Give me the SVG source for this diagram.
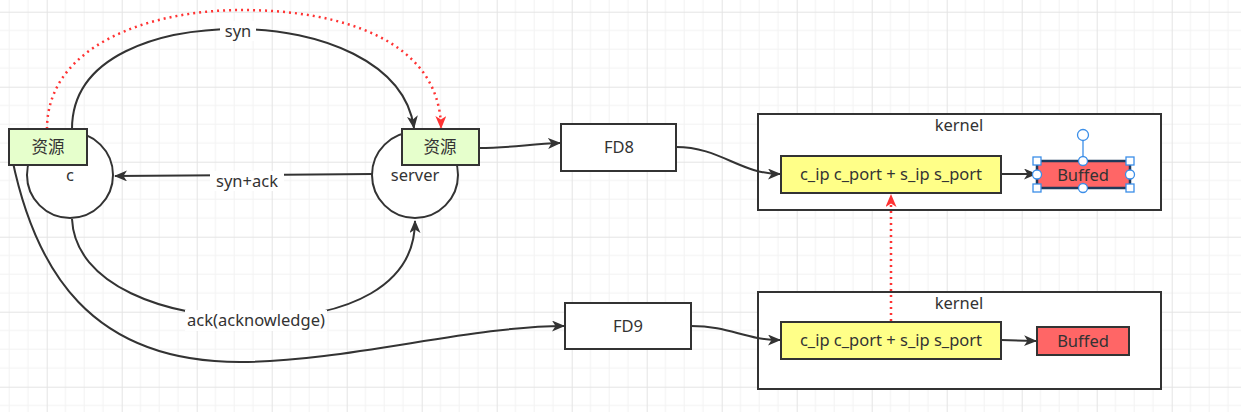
<svg xmlns="http://www.w3.org/2000/svg" width="1241" height="412" viewBox="0 0 1241 412">
<defs>
<pattern id="grid" x="46.7" y="11.7" width="75" height="75" patternUnits="userSpaceOnUse">
<path d="M18.75,0V75M37.5,0V75M56.25,0V75M0,18.75H75M0,37.5H75M0,56.25H75" stroke="#f2f2f2" stroke-width="1" fill="none"/>
<path d="M0.5,0V75M0,0.5H75" stroke="#e4e4e4" stroke-width="1" fill="none"/>
</pattern>
<marker id="arr" viewBox="0 0 13 11" markerWidth="13" markerHeight="11" refX="12" refY="5.5" orient="auto" markerUnits="userSpaceOnUse">
<path d="M0,0 L13,5.5 L0,11 L3.5,5.5 Z" fill="#333"/>
</marker>
<marker id="arrRed" viewBox="0 0 13 11" markerWidth="13" markerHeight="11" refX="12" refY="5.5" orient="auto" markerUnits="userSpaceOnUse">
<path d="M0,0 L13,5.5 L0,11 L3.5,5.5 Z" fill="#ff3333"/>
</marker>
</defs>
<style>
text{font-family:"Noto Sans","Noto Sans CJK SC",sans-serif;fill:#333;text-anchor:middle;font-size:16.5px}
.box{stroke:#333;stroke-width:2}
.edge{fill:none;stroke:#333;stroke-width:2;marker-end:url(#arr)}
.red{fill:none;stroke:#ff3333;stroke-width:2.5;stroke-dasharray:2 4;marker-end:url(#arrRed)}
.lbl{fill:#fff}
.h{fill:#fff;stroke:#3b8ee8;stroke-width:1.3}
</style>
<rect width="1241" height="412" fill="#fff"/>
<rect width="1241" height="412" fill="url(#grid)"/>

<g id="kernel1">
<rect class="box" x="758" y="114" width="403" height="96" fill="#fff"/>
<text x="959" y="131" font-size="15.5">kernel</text>
</g>
<g id="kernel2">
<rect class="box" x="758" y="292" width="403" height="97" fill="#fff"/>
<text x="959" y="309" font-size="15.5">kernel</text>
</g>

<g id="connectors">
<path class="edge" d="M72,129 C72,55 160,29 238,29 C320,29 405,62 414,128"/>
<path class="red" d="M47,129 C47,45 150,10 242,10 C340,10 440,40 441,128"/>
<path class="edge" d="M372,174 L115,176"/>
<path class="edge" d="M72,219 C75,285 165,318 256,318 C350,318 415,285 415,221"/>
<path class="edge" d="M12,158 C35,270 90,362 240,362 C345,362 470,326 564,326"/>
<path class="edge" d="M479,148 C510,148 530,144 560,143"/>
<path class="edge" d="M676,147 C720,147 740,174 780,174"/>
<path class="edge" d="M1001,174 L1036,174"/>
<path class="edge" d="M691,326 C730,326 745,340 780,340"/>
<path class="edge" d="M1001,340 L1036,341"/>
<path class="red" d="M891,321 L891,195"/>
<rect class="lbl" x="220" y="21" width="36" height="20"/>
<text x="238" y="37">syn</text>
<rect class="lbl" x="210" y="171" width="74" height="20"/>
<text x="247" y="187">syn+ack</text>
<rect class="lbl" x="185" y="310" width="142" height="21"/>
<text x="256" y="326">ack(acknowledge)</text>
</g>

<g id="c">
<circle class="box" cx="70" cy="175" r="43" fill="#fff"/>
<text x="70" y="181">c</text>
</g>
<g id="res-c">
<rect class="box" x="9" y="129" width="78" height="36" fill="#e6ffcc" stroke-width="2.5"/>
<text x="48" y="153">资源</text>
</g>
<g id="server">
<circle class="box" cx="415" cy="175" r="43" fill="#fff"/>
<text x="415" y="181">server</text>
</g>
<g id="res-server">
<rect class="box" x="402" y="129" width="77" height="36" fill="#e6ffcc" stroke-width="2.5"/>
<text x="440" y="153">资源</text>
</g>
<g id="fd8">
<rect class="box" x="561" y="124" width="115" height="47" fill="#fff"/>
<text x="619" y="153">FD8</text>
</g>
<g id="fd9">
<rect class="box" x="565" y="303" width="126" height="46" fill="#fff"/>
<text x="628" y="332">FD9</text>
</g>
<g id="tuple1">
<rect class="box" x="781" y="156" width="220" height="37" fill="#ffff88"/>
<text x="891" y="180">c_ip c_port + s_ip s_port</text>
</g>
<g id="tuple2">
<rect class="box" x="781" y="322" width="220" height="37" fill="#ffff88"/>
<text x="891" y="346">c_ip c_port + s_ip s_port</text>
</g>
<g id="buffed1">
<rect x="1037" y="161" width="93" height="27" fill="#ff6666" stroke="#1f3a5a" stroke-width="2.5"/>
<text x="1083" y="181">Buffed</text>
<line x1="1083" y1="140" x2="1083" y2="161" stroke="#3b8ee8" stroke-width="1.3"/>
<circle class="h" cx="1083" cy="135" r="5.5"/>
<rect class="h" x="1033" y="157" width="8" height="8"/>
<rect class="h" x="1126" y="157" width="8" height="8"/>
<rect class="h" x="1033" y="184" width="8" height="8"/>
<rect class="h" x="1126" y="184" width="8" height="8"/>
<circle class="h" cx="1083" cy="161" r="4.5"/>
<circle class="h" cx="1083" cy="188" r="4.5"/>
<circle class="h" cx="1037" cy="174.5" r="4.5"/>
<circle class="h" cx="1130" cy="174.5" r="4.5"/>
</g>
<g id="buffed2">
<rect class="box" x="1037" y="327" width="92" height="28" fill="#ff6666"/>
<text x="1083" y="347">Buffed</text>
</g>
</svg>
